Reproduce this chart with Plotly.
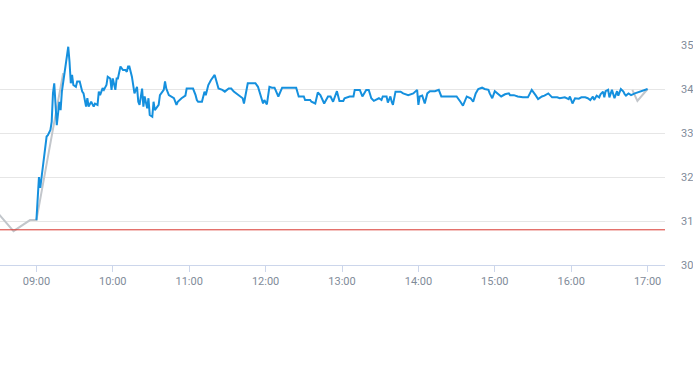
import plotly.graph_objects as go

DAY = "2024-01-02 "

price_times = [
    "09:00", "09:02", "09:03", "09:05", "09:07", "09:08", "09:09", "09:11", "09:12", "09:13",
    "09:14", "09:15", "09:16", "09:18", "09:19", "09:20", "09:22", "09:23", "09:25", "09:26",
    "09:27", "09:28", "09:29", "09:31", "09:32", "09:34", "09:36", "09:37", "09:39", "09:40",
    "09:41", "09:43", "09:45", "09:46", "09:48", "09:49", "09:50", "09:52", "09:53", "09:55",
    "09:56", "09:58", "09:59", "10:00", "10:02", "10:03", "10:04", "10:06", "10:08", "10:10",
    "10:11", "10:12", "10:13", "10:15", "10:16", "10:17", "10:19", "10:20", "10:21", "10:23",
    "10:24", "10:25", "10:27", "10:28", "10:29", "10:31", "10:32", "10:33", "10:34", "10:36",
    "10:37", "10:38", "10:40", "10:41", "10:42", "10:44", "10:46", "10:48", "10:50", "10:51",
    "10:54", "10:57", "10:58", "11:03", "11:05", "11:06", "11:07", "11:10", "11:12", "11:13",
    "11:15", "11:17", "11:20", "11:22", "11:23", "11:26", "11:28", "11:31", "11:33", "11:35",
    "11:37", "11:40", "11:42", "11:43", "11:46", "11:52", "11:54", "11:58", "11:59", "12:01",
    "12:03", "12:05", "12:07", "12:10", "12:13", "12:24", "12:26", "12:30", "12:31", "12:35",
    "12:36", "12:39", "12:41", "12:43", "12:46", "12:49", "12:51", "12:53", "12:56", "12:58",
    "13:01", "13:02", "13:06", "13:09", "13:10", "13:14", "13:16", "13:19", "13:21", "13:23",
    "13:25", "13:29", "13:31", "13:32", "13:35", "13:36", "13:38", "13:39", "13:40", "13:42",
    "13:46", "13:48", "13:52", "13:56", "13:59", "14:00", "14:01", "14:03", "14:05", "14:07",
    "14:09", "14:13", "14:16", "14:18", "14:29", "14:30", "14:33", "14:35", "14:38", "14:41",
    "14:43", "14:45", "14:47", "14:50", "14:52", "14:55", "14:56", "14:58", "15:00", "15:03",
    "15:05", "15:08", "15:11", "15:12", "15:15", "15:18", "15:22", "15:26", "15:29", "15:32",
    "15:34", "15:37", "15:39", "15:42", "15:45", "15:49", "15:51", "15:55", "15:58", "15:59",
    "16:01", "16:03", "16:06", "16:08", "16:11", "16:13", "16:15", "16:17", "16:18", "16:20",
    "16:22", "16:23", "16:25", "16:26", "16:27", "16:29", "16:30", "16:32", "16:34", "16:36",
    "16:37", "16:39", "16:41", "16:42", "16:43", "16:45", "16:47", "16:50", "16:54", "16:57",
    "17:00",
]
price_values = [
    31.02, 32.00, 31.75, 32.27, 32.80, 32.92, 32.95, 33.07, 33.26, 33.90,
    34.13, 33.71, 33.18, 33.71, 33.52, 33.94, 34.32, 34.47, 34.96, 34.62,
    34.13, 34.32, 34.09, 34.05, 34.17, 34.17, 33.94, 33.90, 33.60, 33.79,
    33.60, 33.71, 33.60, 33.67, 33.64, 33.94, 33.86, 34.02, 33.98, 34.09,
    34.28, 34.24, 33.98, 34.24, 33.98, 34.24, 34.24, 34.51, 34.43, 34.43,
    34.39, 34.51, 34.51, 34.28, 34.09, 33.90, 34.05, 33.71, 33.64, 34.01,
    33.60, 33.83, 33.56, 33.79, 33.41, 33.37, 33.71, 33.52, 33.56, 33.64,
    33.86, 33.90, 33.98, 34.17, 34.01, 33.86, 33.83, 33.79, 33.64, 33.71,
    33.79, 33.85, 34.01, 34.01, 33.86, 33.75, 33.71, 33.71, 33.94, 33.86,
    34.09, 34.20, 34.32, 34.09, 34.01, 33.98, 33.94, 34.01, 34.01, 33.94,
    33.90, 33.84, 33.79, 33.67, 34.13, 34.13, 34.05, 33.67, 33.75, 33.65,
    34.05, 34.03, 34.03, 33.83, 34.03, 34.03, 33.83, 33.83, 33.75, 33.75,
    33.71, 33.67, 33.92, 33.86, 33.67, 33.83, 33.83, 33.71, 33.95, 33.73,
    33.73, 33.79, 33.83, 33.83, 33.98, 33.98, 33.83, 33.98, 33.98, 33.79,
    33.73, 33.79, 33.75, 33.83, 33.83, 33.69, 33.83, 33.71, 33.64, 33.94,
    33.94, 33.90, 33.86, 33.90, 33.98, 33.64, 33.83, 33.85, 33.67, 33.90,
    33.95, 33.95, 33.98, 33.83, 33.83, 33.83, 33.71, 33.62, 33.83, 33.79,
    33.71, 33.90, 34.00, 34.03, 34.00, 33.98, 33.90, 33.79, 33.95, 33.88,
    33.83, 33.88, 33.90, 33.86, 33.86, 33.83, 33.81, 33.81, 33.98, 33.86,
    33.77, 33.83, 33.85, 33.90, 33.81, 33.81, 33.79, 33.81, 33.77, 33.83,
    33.67, 33.79, 33.78, 33.81, 33.81, 33.79, 33.75, 33.83, 33.75, 33.85,
    33.81, 33.88, 33.94, 33.81, 33.95, 33.98, 33.81, 33.98, 33.79, 33.95,
    33.85, 34.00, 33.94, 33.88, 33.85, 33.90, 33.86, 33.90, 33.94, 33.97,
    34.00,
]

auction_times = ["08:30", "08:42", "08:55", "09:00", "09:21", "16:47", "16:48", "16:52", "17:00"]
auction_values = [31.17, 30.77, 31.02, 31.02, 34.36, None, 33.98, 33.73, 34.00]

reference_level = 30.8

x_start = DAY + "08:31:24"
x_end = DAY + "17:13:40"
y_range = [30, 35.0227]
y_ticks = [30, 31, 32, 33, 34, 35]
x_ticks = ["09:00", "10:00", "11:00", "12:00", "13:00", "14:00", "15:00", "16:00", "17:00"]

label_color = "#7f8b99"
font_family = "Roboto, 'Liberation Sans', Arial, sans-serif"

fig = go.Figure()
fig.add_trace(go.Scatter(
    x=[DAY + t for t in auction_times], y=auction_values, mode="lines",
    line=dict(color="#c2c6cb", width=2), connectgaps=False, showlegend=False,
))
fig.add_trace(go.Scatter(
    x=[DAY + t for t in price_times], y=price_values, mode="lines",
    line=dict(color="#1590de", width=2), showlegend=False,
))
fig.add_trace(go.Scatter(
    x=[x_start, x_end], y=[reference_level, reference_level], mode="lines",
    line=dict(color="#d9362e", width=1), showlegend=False,
))

fig.update_layout(
    width=693, height=365,
    margin=dict(l=0, r=28, t=44, b=100),
    paper_bgcolor="white", plot_bgcolor="white",
    font=dict(family=font_family, size=11, color=label_color),
    xaxis=dict(
        type="date", range=[x_start, x_end],
        tickvals=[DAY + t for t in x_ticks], ticktext=x_ticks,
        showgrid=False, showline=True, linecolor="#ccd6eb", linewidth=1,
        ticks="outside", ticklen=6, tickcolor="#ccd6eb",
        tickfont=dict(size=11, color=label_color),
        zeroline=False, fixedrange=True,
    ),
    yaxis=dict(
        range=y_range, side="right", tickvals=y_ticks,
        showgrid=True, gridcolor="#e6e6e6", gridwidth=1,
        showline=False, zeroline=False, ticks="",
        ticklabelstandoff=15,
        tickfont=dict(size=11, color=label_color),
        fixedrange=True, automargin=False,
    ),
)

fig.write_html(
    "out.html",
    config={"displayModeBar": False},
    post_script="document.body.style.margin='0';",
)
